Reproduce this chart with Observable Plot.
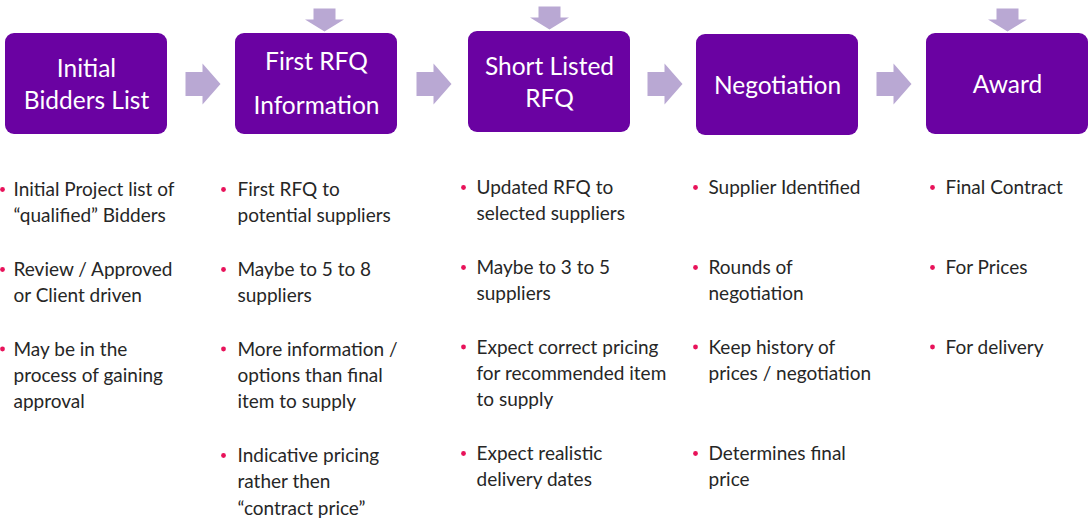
<!DOCTYPE html>
<html>
<head>
<meta charset="utf-8">
<script src="https://cdn.jsdelivr.net/npm/d3@7"></script>
<script src="https://cdn.jsdelivr.net/npm/@observablehq/plot@0.6"></script>
<style>
  html, body { margin: 0; padding: 0; background: #fff; }
  #chart { width: 1089px; height: 519px; overflow: hidden; }
</style>
</head>
<body>
<div id="chart"></div>
<script>
// ---- content ----
const stages = ["Initial\nBidders List", "First RFQ\nInformation", "Short Listed\nRFQ", "Negotiation", "Award"];
const stageLineHeight = [1.3, 1.8, 1.3, 1.3, 1.3];
const hasInput = [false, true, true, false, true];

const bullets0 = ["Initial Project list of\n“qualified” Bidders", "Review / Approved\nor Client driven", "May be in the\nprocess of gaining\napproval"];
const bullets1 = ["First RFQ to\npotential suppliers", "Maybe to 5 to 8\nsuppliers", "More information /\noptions than final\nitem to supply", "Indicative pricing\nrather then\n“contract price”"];
const bullets2 = ["Updated RFQ to\nselected suppliers", "Maybe to 3 to 5\nsuppliers", "Expect correct pricing\nfor recommended item\nto supply", "Expect realistic\ndelivery dates"];
const bullets3 = ["Supplier Identified", "Rounds of\nnegotiation", "Keep history of\nprices / negotiation", "Determines final\nprice"];
const bullets4 = ["Final Contract", "For Prices", "For delivery"];
const bulletGroups = [bullets0, bullets1, bullets2, bullets3, bullets4];

// ---- layout ----
const W = 1089, H = 519;
const boxX = [5, 235, 468, 696, 926];
const boxTop = [33, 33, 31, 34, 33];
const boxW = 162, boxH = 101;
const textX = [13, 237, 476, 708, 945];
const dotX = [2, 223, 463, 695, 932];
const slotY = [188, 268, 347.5, 454];
const colShift = [1, 1, -1, -1, -1];
const arrowX = [185, 416, 647, 876];

const purple = "#6a02a2";
const lavender = "#b9a8d3";
const pink = "#e8125a";

const boxes = stages.map((s, i) => ({
  label: s, x1: boxX[i], x2: boxX[i] + boxW, y1: boxTop[i], y2: boxTop[i] + boxH,
  cx: boxX[i] + boxW / 2, cy: boxTop[i] + boxH / 2, lh: stageLineHeight[i]
}));

// right arrows between consecutive boxes
const arrowPts = [];
arrowX.forEach((x0, k) => {
  const cy = 83.5;
  const pts = [[x0, cy - 12], [x0 + 17, cy - 12], [x0 + 17, cy - 20.5], [x0 + 35, cy],
               [x0 + 17, cy + 20.5], [x0 + 17, cy + 12], [x0, cy + 12]];
  pts.forEach(([x, y]) => arrowPts.push({id: "r" + k, x, y}));
});
// down arrows into boxes that take input
boxes.forEach((b, i) => {
  if (!hasInput[i]) return;
  const cx = b.cx + (i === 1 ? 8 : 0);
  const top = b.y1 - 25;
  const pts = [[cx - 11, top], [cx + 11, top], [cx + 11, top + 11], [cx + 19.5, top + 11], [cx, top + 23],
               [cx - 19.5, top + 11], [cx - 11, top + 11]];
  pts.forEach(([x, y]) => arrowPts.push({id: "d" + i, x, y}));
});

const bulletRows = [];
bulletGroups.forEach((g, c) => g.forEach((t, j) => {
  bulletRows.push({text: t, tx: textX[c], dx: dotX[c], y: slotY[j] + colShift[c]});
}));

const font = "Lato, 'Open Sans', sans-serif";

const chart = Plot.plot({
  width: W, height: H,
  margin: 0,
  x: {domain: [0, W], axis: null},
  y: {domain: [0, H], axis: null, range: [0, H]},
  style: {fontFamily: font, background: "#fff"},
  marks: [
    Plot.line(arrowPts, {x: "x", y: "y", z: "id", fill: lavender, stroke: "none", curve: "linear-closed"}),
    Plot.rect(boxes, {x1: "x1", x2: "x2", y1: "y1", y2: "y2", fill: purple, rx: 9}),
    Plot.text(boxes.filter((b, i) => stageLineHeight[i] === 1.3), {x: "cx", y: "cy", text: "label", fill: "#fff",
      fontSize: 24.5, lineHeight: 1.28, lineAnchor: "middle", textAnchor: "middle", dy: -1}),
    Plot.text(boxes.filter((b, i) => stageLineHeight[i] !== 1.3), {x: "cx", y: "cy", text: "label", fill: "#fff",
      fontSize: 24.5, lineHeight: 1.78, lineAnchor: "middle", textAnchor: "middle", dy: -6}),
    Plot.dot(bulletRows, {x: "dx", y: "y", r: 2.4, fill: pink, stroke: "none"}),
    Plot.text(bulletRows, {x: "tx", y: "y", text: "text", fill: "#262626", fontSize: 19,
      lineHeight: 1.38, lineAnchor: "top", textAnchor: "start", dy: -12})
  ]
});
document.getElementById("chart").appendChild(chart);
</script>
</body>
</html>
